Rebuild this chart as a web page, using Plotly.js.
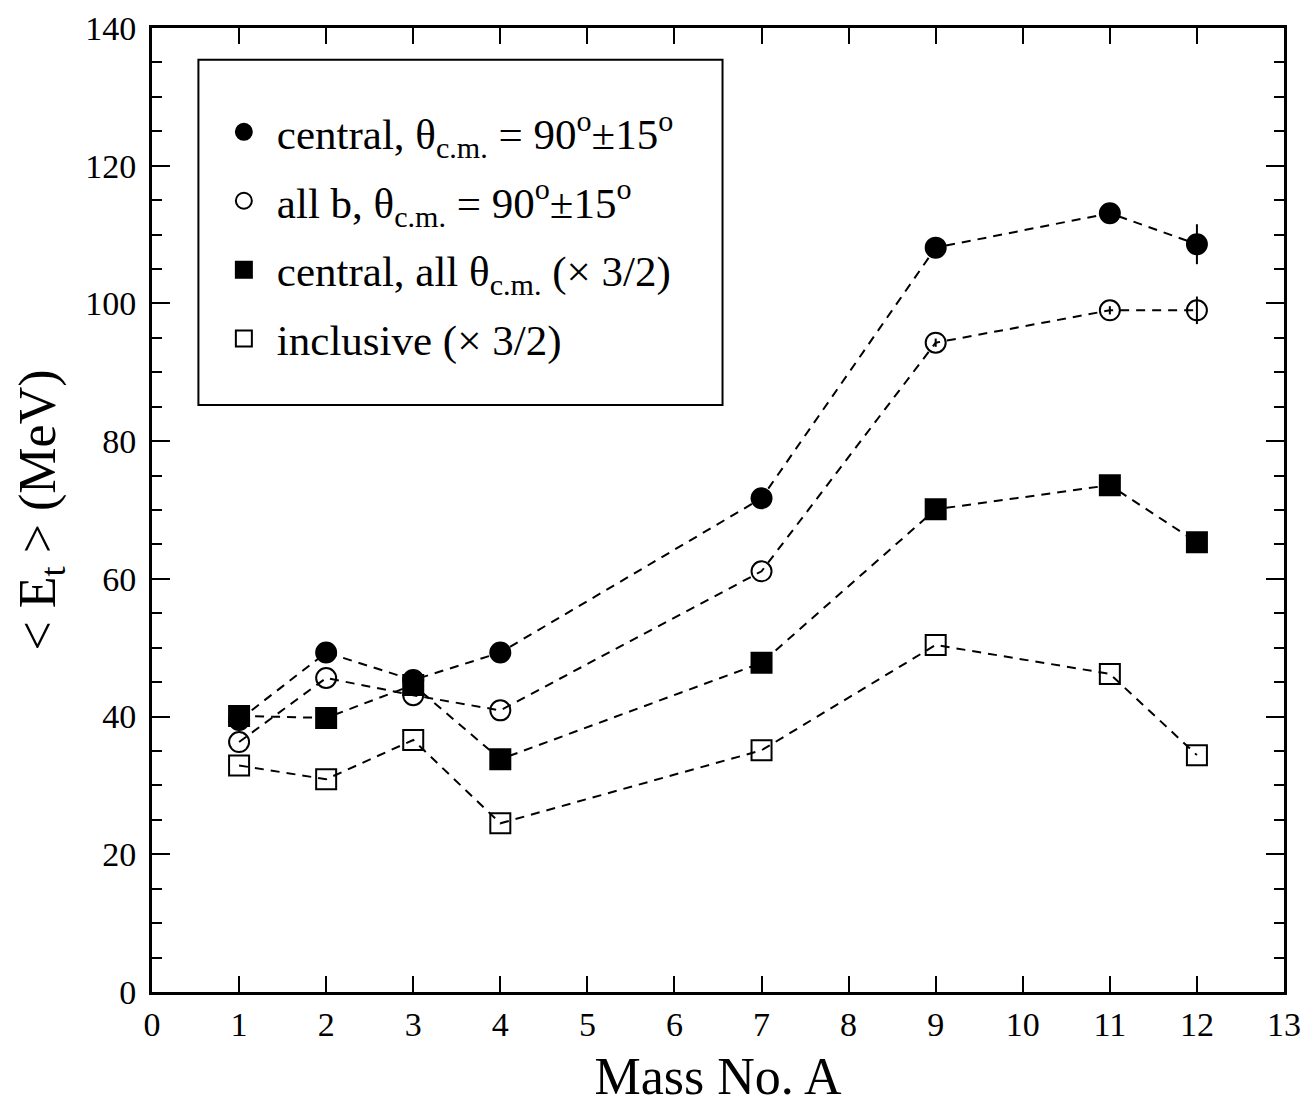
<!DOCTYPE html>
<html>
<head>
<meta charset="utf-8">
<script src="https://cdn.plot.ly/plotly-3.0.1.min.js"></script>
<style>html,body{margin:0;padding:0;background:#fff;}#chart{width:1301px;height:1105px;}</style>
</head>
<body>
<div id="chart"></div>
<script>
const massNo = [1, 2, 3, 4, 7, 9, 11, 12];
const centralCM = [39.5, 49.3, 45.3, 49.3, 71.7, 108.1, 113.1, 108.6];
const centralCMErr = [0, 0, 0, 0, 0, 0.8, 1.2, 2.9];
const allbCM = [36.3, 45.6, 43.1, 40.9, 61.1, 94.3, 99.0, 99.0];
const allbCMErr = [0, 0, 0, 0, 0, 0.6, 0.6, 2.0];
const centralAll = [40.1, 39.8, 44.6, 33.8, 47.8, 70.1, 73.6, 65.3];
const inclusive = [32.9, 30.9, 36.6, 24.5, 35.1, 50.4, 46.2, 34.4];
const xTicks = [0,1,2,3,4,5,6,7,8,9,10,11,12,13];
const yTicks = [0,20,40,60,80,100,120,140];

const names = [
  'central, θ<sub>c.m.</sub> = 90<sup>o</sup>±15<sup>o</sup>',
  'all b, θ<sub>c.m.</sub> = 90<sup>o</sup>±15<sup>o</sup>',
  'central, all θ<sub>c.m.</sub> (× 3/2)',
  'inclusive (× 3/2)'
];

function series(y, err, name, symbol, grp) {
  const lineTr = {
    x: massNo, y: y, type: 'scatter', mode: 'lines', showlegend: false,
    line: {color: '#000', width: 2, dash: '9px,7px'}, hoverinfo: 'skip'
  };
  const mk = {
    x: massNo, y: y, name: name, type: 'scatter', mode: 'markers',
    legendgroup: grp,
    marker: {symbol: symbol, size: 20, color: '#000', line: {color: '#000', width: 2}}
  };
  if (err) mk.error_y = {type: 'data', array: err, visible: true, color: '#000', thickness: 2, width: 0};
  return [lineTr, mk];
}

const data = [].concat(
  series(centralCM, centralCMErr, names[0], 'circle', 'a'),
  series(allbCM, allbCMErr, names[1], 'circle-open', 'b'),
  series(centralAll, null, names[2], 'square', 'c'),
  series(inclusive, null, names[3], 'square-open', 'd')
);

const font = 'Liberation Serif, Times New Roman, serif';
const layout = {
  width: 1301, height: 1105,
  margin: {l: 152, r: 17, t: 28, b: 113},
  paper_bgcolor: '#fff', plot_bgcolor: '#fff',
  font: {family: font, color: '#000', size: 34},
  showlegend: true,
  legend: {
    x: 0.052, y: 0.928, xanchor: 'left', yanchor: 'top',
    bgcolor: 'rgba(0,0,0,0)', borderwidth: 0,
    font: {family: font, size: 43, color: '#000'},
    tracegroupgap: 10, itemwidth: 56
  },
  xaxis: {
    range: [0, 13], tickvals: xTicks, ticktext: xTicks.map(String),
    ticks: 'inside', ticklen: 16, tickwidth: 2, tickcolor: '#000',
    showline: true, linewidth: 3, linecolor: '#000', mirror: 'ticks',
    showgrid: false, zeroline: false,
    tickfont: {family: font, size: 34},
    title: {text: 'Mass No. A', font: {family: font, size: 52}, standoff: 18}
  },
  yaxis: {
    range: [0, 140], tickvals: yTicks, ticktext: yTicks.map(String),
    ticks: 'inside', ticklen: 18, tickwidth: 2, tickcolor: '#000',
    ticklabelstandoff: 6,
    minor: {dtick: 5, ticks: 'inside', ticklen: 10, tickwidth: 2, tickcolor: '#000', showgrid: false},
    showline: true, linewidth: 3, linecolor: '#000', mirror: 'ticks',
    showgrid: false, zeroline: false,
    tickfont: {family: font, size: 34},
    title: {text: '< E<sub>t</sub> > (MeV)', font: {family: font, size: 52}, standoff: 14}
  },
  shapes: [{
    type: 'rect', xref: 'paper', yref: 'paper',
    x0: 0.041, x1: 0.504, y0: 0.609, y1: 0.967,
    line: {color: '#000', width: 2}, fillcolor: 'rgba(0,0,0,0)'
  }]
};

Plotly.newPlot('chart', data, layout, {displayModeBar: false, staticPlot: true});
</script>
</body>
</html>
